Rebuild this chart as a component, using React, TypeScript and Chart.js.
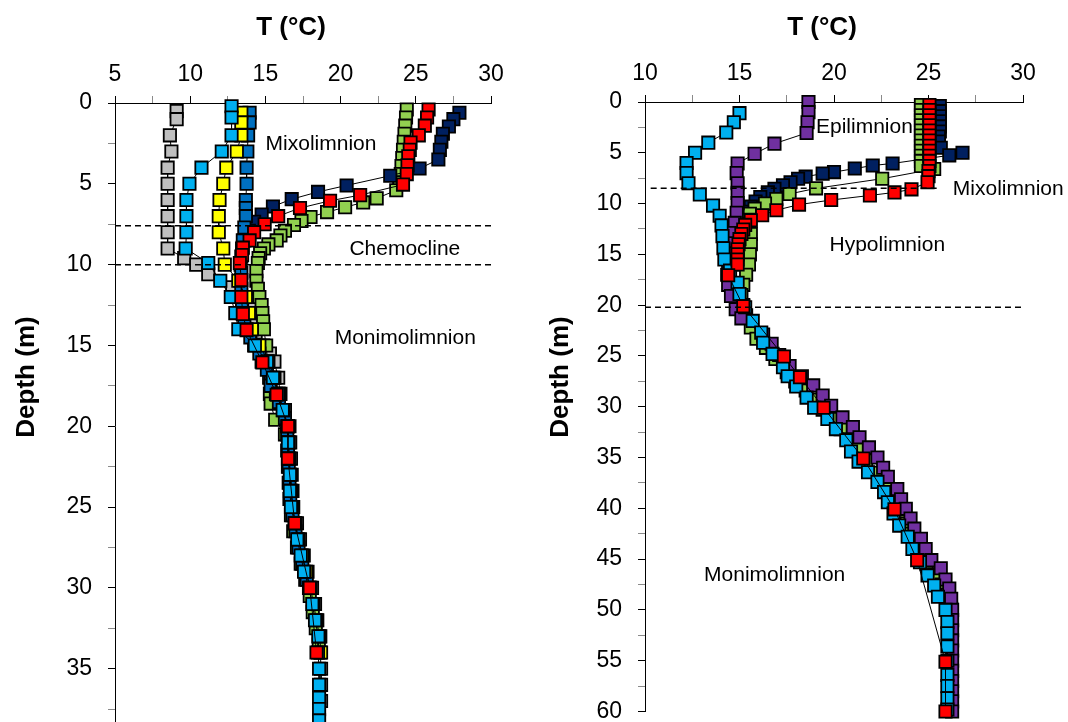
import { useEffect, useRef } from 'react';
import { Chart, registerables } from 'chart.js';

Chart.register(...registerables);

const FONT = 'Arial, "Liberation Sans", Helvetica, sans-serif';

// ---------------- Left lake: temperature profiles (depth m, T °C) ----------------
const leftRedDepth = [0.4, 0.9, 1.4, 2.0, 2.45, 2.9, 3.3, 3.85, 4.4, 5.05, 5.7, 6.05, 6.5, 7.0, 7.5, 8.0, 8.5, 8.95, 9.4, 9.9, 10.95, 12.0, 13.05, 14.05, 16.05, 18.05, 20.0, 22.0, 26.0, 30.0, 34.0];
const leftRedTemp = [25.85, 25.75, 25.6, 25.2, 24.65, 24.6, 24.5, 24.45, 24.4, 24.15, 21.3, 19.3, 17.3, 15.85, 14.95, 14.25, 13.95, 13.5, 13.45, 13.3, 13.4, 13.4, 13.5, 13.75, 14.8, 15.75, 16.5, 16.5, 16.95, 17.95, 18.4];

const leftCyanDepth = [0.2, 0.9, 2.0, 3.0, 4.0, 5.0, 6.0, 7.0, 8.0, 9.0, 9.9, 11.0, 12.0, 13.0, 14.0, 15.0, 16.0, 17.0, 18.0, 19.0, 20.0, 21.0, 22.0, 23.0, 24.0, 25.0, 26.0, 27.0, 28.0, 29.0, 30.0, 31.0, 32.0, 33.0, 34.0, 35.0, 36.0, 36.8, 37.5, 38.2];
const leftCyanTemp = [12.75, 12.75, 12.75, 12.1, 10.75, 9.95, 9.75, 9.75, 9.75, 9.7, 11.2, 12.0, 12.7, 13.0, 13.2, 14.3, 15.1, 15.5, 15.85, 16.15, 16.45, 16.5, 16.55, 16.63, 16.63, 16.7, 16.95, 17.12, 17.35, 17.57, 17.9, 18.12, 18.3, 18.52, 18.5, 18.57, 18.57, 18.57, 18.57, 18.57];

const leftYellowDepth = [0.6, 1.2, 2.0, 3.0, 4.0, 5.0, 6.0, 7.0, 8.0, 9.0, 10.0, 11.0, 12.0, 13.0, 14.0, 15.0, 16.0, 17.0, 18.0, 19.0, 20.0, 21.0, 22.0, 23.0, 24.0, 25.0, 26.0, 27.0, 28.0, 29.0, 30.0, 31.0, 32.0, 33.0, 34.0];
const leftYellowTemp = [13.4, 13.4, 13.4, 13.1, 12.4, 12.2, 11.95, 11.9, 11.9, 12.2, 12.3, 13.2, 13.7, 13.9, 14.1, 14.6, 15.2, 15.6, 15.9, 16.2, 16.5, 16.55, 16.6, 16.65, 16.7, 16.8, 17.0, 17.2, 17.45, 17.7, 18.0, 18.2, 18.4, 18.6, 18.7];

const leftBlueDepth = [0.6, 1.2, 2.0, 3.0, 4.0, 5.0, 6.0, 6.5, 7.0, 7.7, 8.5, 9.5, 10.5, 11.5, 12.5, 13.5, 14.5, 15.5, 16.5, 17.5, 18.5, 19.5, 20.5, 21.5, 22.5, 23.5, 24.5, 25.5, 26.5, 27.5, 28.5, 29.5];
const leftBlueTemp = [13.95, 13.95, 13.85, 13.8, 13.75, 13.75, 13.7, 13.7, 13.7, 13.6, 13.5, 13.4, 13.4, 13.4, 13.45, 13.6, 14.0, 14.6, 15.1, 15.35, 15.9, 16.3, 16.45, 16.5, 16.55, 16.6, 16.65, 16.8, 17.0, 17.2, 17.45, 17.75];

const leftNavyDepth = [0.6, 1.0, 1.45, 1.9, 2.4, 2.9, 3.5, 4.05, 4.5, 5.1, 5.5, 5.95, 6.4, 6.9, 7.35, 7.9, 8.5, 9.0, 10.0, 11.0, 12.0, 13.0, 14.0, 15.0, 16.0, 17.0, 18.0];
const leftNavyTemp = [27.9, 27.5, 27.2, 26.8, 26.7, 26.6, 26.5, 25.25, 23.3, 20.4, 18.5, 16.75, 15.5, 14.75, 14.25, 13.9, 13.6, 13.45, 13.35, 13.35, 13.4, 13.5, 13.75, 14.25, 14.75, 15.35, 15.7];

const leftGreenDepth = [0.4, 0.9, 1.4, 1.9, 2.4, 2.9, 3.4, 3.9, 4.4, 4.9, 5.4, 5.9, 6.15, 6.45, 6.75, 7.05, 7.3, 7.55, 7.9, 8.2, 8.5, 8.75, 9.0, 9.3, 9.6, 9.9, 10.4, 11.0, 11.5, 12.0, 12.5, 13.0, 13.5, 14.0, 15.0, 16.0, 17.0, 18.0, 18.6, 19.6, 20.5, 21.5, 22.5, 23.5, 24.5, 25.5, 26.5, 27.5, 28.5, 29.5, 30.5, 31.5, 32.5, 33.5];
const leftGreenTemp = [24.4, 24.35, 24.3, 24.25, 24.2, 24.15, 24.1, 24.05, 24.0, 23.9, 23.7, 22.4, 21.5, 20.3, 19.1, 18.0, 17.4, 16.9, 16.3, 16.0, 15.75, 15.2, 14.9, 14.65, 14.55, 14.5, 14.4, 14.4, 14.5, 14.6, 14.75, 14.8, 14.85, 14.9, 15.05, 15.15, 15.25, 15.3, 15.35, 15.65, 16.3, 16.45, 16.5, 16.55, 16.6, 16.7, 16.85, 17.1, 17.35, 17.65, 17.95, 18.15, 18.35, 18.55];

const leftGrayDepth = [0.5, 1.0, 2.0, 3.0, 4.0, 5.0, 6.0, 7.0, 8.0, 9.0, 9.6, 10.0, 10.6, 11.4, 12.2, 12.7, 13.2, 13.7, 14.2, 15.0, 15.5, 16.0, 17.0, 18.0, 19.0, 20.0, 21.0, 22.0, 23.0, 24.0, 25.0, 26.0, 27.0, 28.0, 29.0, 30.0, 31.0, 32.0, 33.0, 34.0, 35.0, 36.0, 37.0];
const leftGrayTemp = [9.1, 9.1, 8.65, 8.75, 8.5, 8.5, 8.5, 8.5, 8.5, 8.5, 9.6, 10.4, 11.2, 12.8, 14.0, 14.2, 14.2, 14.3, 14.35, 14.85, 15.3, 15.6, 15.85, 16.0, 16.3, 16.6, 16.65, 16.7, 16.75, 16.8, 16.85, 17.1, 17.3, 17.55, 17.8, 18.1, 18.3, 18.45, 18.65, 18.65, 18.7, 18.7, 18.7];

// layer boundaries (depth m) and region names
const leftBoundaryDepth = [7.6, 10.0];
const leftBoundaryFrom = [5, 5];
const leftBoundaryTo = [30, 30];
const leftLayerNames = ['Mixolimnion', 'Chemocline', 'Monimolimnion'];
const leftLayerTemp = [18.7, 24.27, 24.3];
const leftLayerDepth = [2.44, 8.95, 14.47];

// ---------------- Right lake: temperature profiles (depth m, T °C) ----------------
const rightRedDepth = [0.3, 0.8, 1.3, 1.8, 2.3, 2.8, 3.3, 3.8, 4.3, 4.8, 5.3, 5.8, 6.3, 6.8, 7.3, 7.9, 8.6, 8.9, 9.2, 9.65, 10.1, 10.65, 11.15, 11.65, 12.1, 12.55, 13.0, 13.5, 14.0, 14.5, 15.0, 15.5, 16.0, 17.05, 20.1, 25.05, 27.1, 30.1, 35.1, 40.1, 45.1, 55.1, 60.0];
const rightRedTemp = [25.05, 25.05, 25.05, 25.05, 25.05, 25.05, 25.05, 25.05, 25.05, 25.05, 25.05, 25.05, 25.05, 25.0, 25.0, 24.95, 24.1, 23.2, 21.9, 19.85, 18.15, 16.95, 16.2, 15.6, 15.3, 15.2, 15.1, 15.0, 14.95, 14.9, 14.9, 14.9, 14.9, 14.4, 15.2, 17.35, 18.2, 19.45, 21.55, 23.2, 24.4, 25.9, 25.9];

const rightCyanDepth = [1.1, 2.0, 3.0, 4.0, 5.0, 6.0, 7.0, 8.0, 9.1, 10.2, 11.2, 12.15, 13.2, 14.4, 15.5, 16.6, 17.8, 18.9, 20.2, 21.55, 22.7, 23.7, 24.8, 26.1, 27.0, 28.0, 29.1, 30.1, 31.2, 32.2, 33.3, 34.4, 35.4, 36.45, 37.4, 38.4, 39.4, 40.5, 41.7, 42.8, 44.0, 45.3, 46.6, 47.6, 48.7, 50.0, 51.2, 52.3, 53.6, 55.0, 56.4, 57.5, 58.7, 59.8];
const rightCyanTemp = [15.0, 14.7, 14.3, 13.35, 12.65, 12.2, 12.2, 12.3, 12.9, 13.6, 13.95, 14.05, 14.1, 14.15, 14.2, 14.5, 14.9, 15.0, 15.3, 15.7, 16.15, 16.25, 16.75, 17.3, 17.55, 18.0, 18.55, 18.95, 19.65, 20.1, 20.65, 20.9, 21.3, 21.8, 22.3, 22.65, 22.85, 23.15, 23.45, 23.9, 24.15, 24.55, 24.95, 25.3, 25.5, 25.9, 26.0, 26.0, 26.0, 26.0, 26.0, 26.0, 26.0, 26.0];

const rightPurpleDepth = [0.0, 1.0, 2.0, 3.05, 4.1, 5.1, 6.05, 7.0, 8.0, 8.95, 9.95, 10.9, 11.9, 12.9, 13.9, 14.9, 15.9, 17.0, 18.0, 19.1, 20.4, 21.3, 22.9, 23.8, 24.9, 26.0, 27.0, 27.9, 28.9, 29.9, 31.05, 32.0, 33.0, 34.0, 35.0, 36.0, 36.9, 38.1, 39.1, 40.05, 41.0, 42.0, 43.0, 44.0, 45.1, 45.9, 47.0, 47.9, 48.9, 50.0, 51.0, 52.0, 53.0, 54.0, 55.0, 56.0, 57.0, 58.0, 59.0, 60.0];
const rightPurpleTemp = [18.65, 18.65, 18.6, 18.55, 16.85, 15.8, 14.9, 14.85, 14.9, 14.9, 14.9, 14.85, 14.75, 14.6, 14.5, 14.45, 14.4, 14.35, 14.4, 14.55, 14.8, 15.1, 16.25, 16.7, 17.1, 17.65, 18.3, 18.9, 19.4, 19.85, 20.45, 21.0, 21.35, 21.85, 22.3, 22.6, 22.85, 23.35, 23.55, 23.8, 24.05, 24.25, 24.6, 24.85, 25.15, 25.65, 25.9, 26.1, 26.2, 26.25, 26.25, 26.25, 26.25, 26.25, 26.25, 26.25, 26.25, 26.25, 26.25, 26.25];

const rightGreenDepth = [0.3, 0.8, 1.3, 1.8, 2.3, 2.8, 3.3, 3.8, 4.3, 4.8, 5.3, 5.8, 6.3, 6.6, 7.55, 8.5, 9.05, 9.55, 10.0, 10.5, 11.0, 11.6, 12.0, 13.0, 14.0, 15.0, 16.0, 17.0, 18.0, 19.0, 20.0, 21.0, 22.2, 23.3, 24.2, 25.3, 26.6, 27.5, 28.4, 29.3, 30.3, 31.2, 32.2, 33.2, 34.2, 35.3, 36.5, 37.5, 38.5, 39.5, 40.5, 41.5, 42.5, 43.5, 44.5, 45.5, 46.5, 47.5, 48.5, 49.9, 51.0, 52.0];
const rightGreenTemp = [24.6, 24.6, 24.6, 24.6, 24.6, 24.6, 24.6, 24.6, 24.6, 24.6, 24.6, 24.6, 24.6, 25.3, 22.55, 19.05, 17.65, 16.95, 16.35, 15.8, 15.55, 15.5, 15.55, 15.6, 15.6, 15.55, 15.5, 15.35, 15.2, 15.1, 15.2, 15.35, 15.6, 15.9, 16.4, 16.9, 17.5, 17.95, 18.5, 19.0, 19.4, 19.85, 20.35, 20.8, 21.2, 21.7, 22.4, 22.75, 23.1, 23.35, 23.6, 23.85, 24.05, 24.4, 24.65, 24.9, 25.3, 25.7, 26.0, 26.2, 26.2, 26.2];

const rightNavyDepth = [0.4, 0.9, 1.4, 1.9, 2.4, 2.9, 3.4, 3.9, 4.5, 5.0, 5.25, 6.05, 6.25, 6.55, 6.9, 7.05, 7.35, 7.55, 7.9, 8.2, 8.55, 8.9, 9.35, 9.8, 10.3, 10.8, 11.4, 12.0, 13.0, 14.0, 15.0, 16.0];
const rightNavyTemp = [25.6, 25.6, 25.6, 25.6, 25.6, 25.6, 25.55, 25.55, 25.65, 26.8, 26.1, 23.1, 22.05, 21.1, 20.0, 19.4, 18.5, 18.1, 17.7, 17.3, 16.85, 16.5, 16.1, 15.85, 15.6, 15.45, 15.35, 15.3, 15.3, 15.25, 15.2, 15.15];

const rightBoundaryDepth = [8.5, 20.2];
const rightBoundaryFrom = [10.3, 10];
const rightBoundaryTo = [25.6, 30];
const rightLayerNames = ['Epilimnion', 'Mixolimnion', 'Hypolimnion', 'Monimolimnion'];
const rightLayerTemp = [21.61, 29.22, 22.82, 16.86];
const rightLayerDepth = [2.36, 8.4, 13.89, 46.38];

// ---------------- axes ----------------
const leftTempRange = [5, 30];
const leftDepthRange = [0, 40];
const rightTempRange = [10, 30];
const rightDepthRange = [0, 60];

const COLORS = {
  red: '#FF0000',
  cyan: '#00B0F0',
  yellow: '#FFFF00',
  blue: '#0070C0',
  navy: '#002060',
  green: '#92D050',
  gray: '#BFBFBF',
  purple: '#7030A0',
};

type Profile = { color: string; depth: number[]; temp: number[] };

type PanelSpec = {
  left: number;
  width: number;
  height: number;
  axisLeft: number;
  axisTop: number;
  padRight: number;
  padBottom: number;
  tempRange: number[];
  depthRange: number[];
  profiles: Profile[]; // first entry is drawn on top
  boundaryDepth: number[];
  boundaryFrom: number[];
  boundaryTo: number[];
  layerNames: string[];
  layerTemp: number[];
  layerDepth: number[];
};

const leftSpec: PanelSpec = {
  left: 0,
  width: 534,
  height: 760,
  axisLeft: 115,
  axisTop: 103,
  padRight: 43,
  padBottom: 5,
  tempRange: leftTempRange,
  depthRange: leftDepthRange,
  profiles: [
    { color: COLORS.red, depth: leftRedDepth, temp: leftRedTemp },
    { color: COLORS.cyan, depth: leftCyanDepth, temp: leftCyanTemp },
    { color: COLORS.yellow, depth: leftYellowDepth, temp: leftYellowTemp },
    { color: COLORS.blue, depth: leftBlueDepth, temp: leftBlueTemp },
    { color: COLORS.navy, depth: leftNavyDepth, temp: leftNavyTemp },
    { color: COLORS.green, depth: leftGreenDepth, temp: leftGreenTemp },
    { color: COLORS.gray, depth: leftGrayDepth, temp: leftGrayTemp },
  ],
  boundaryDepth: leftBoundaryDepth,
  boundaryFrom: leftBoundaryFrom,
  boundaryTo: leftBoundaryTo,
  layerNames: leftLayerNames,
  layerTemp: leftLayerTemp,
  layerDepth: leftLayerDepth,
};

const rightSpec: PanelSpec = {
  left: 534,
  width: 534,
  height: 722,
  axisLeft: 111,
  axisTop: 102,
  padRight: 45,
  padBottom: 9,
  tempRange: rightTempRange,
  depthRange: rightDepthRange,
  profiles: [
    { color: COLORS.red, depth: rightRedDepth, temp: rightRedTemp },
    { color: COLORS.cyan, depth: rightCyanDepth, temp: rightCyanTemp },
    { color: COLORS.purple, depth: rightPurpleDepth, temp: rightPurpleTemp },
    { color: COLORS.green, depth: rightGreenDepth, temp: rightGreenTemp },
    { color: COLORS.navy, depth: rightNavyDepth, temp: rightNavyTemp },
  ],
  boundaryDepth: rightBoundaryDepth,
  boundaryFrom: rightBoundaryFrom,
  boundaryTo: rightBoundaryTo,
  layerNames: rightLayerNames,
  layerTemp: rightLayerTemp,
  layerDepth: rightLayerDepth,
};

function Panel({ spec }: { spec: PanelSpec }) {
  const ref = useRef<HTMLCanvasElement | null>(null);

  useEffect(() => {
    if (!ref.current) return;
    const datasets: any[] = [];

    // dashed layer boundaries, on top of the profiles
    spec.boundaryDepth.forEach((d, i) => {
      datasets.push({
        data: [
          { x: spec.boundaryFrom[i], y: d },
          { x: spec.boundaryTo[i], y: d },
        ],
        showLine: true,
        borderColor: '#000',
        borderWidth: 1.5,
        borderDash: [6, 4],
        pointRadius: 0,
        clip: false,
      });
    });

    spec.profiles.forEach((p) => {
      datasets.push({
        data: p.depth.map((d, i) => ({ x: p.temp[i], y: d })),
        showLine: true,
        borderColor: '#000',
        borderWidth: 1,
        tension: 0,
        pointStyle: 'rect',
        pointRadius: 8.7,
        pointBackgroundColor: p.color,
        pointBorderColor: '#000',
        pointBorderWidth: 1.8,
        clip: false,
      });
    });

    const tickColor = (c: any) =>
      c.tick && Math.abs(c.tick.value % 5) < 1e-6 ? '#000' : '#8a8a8a';
    const labelFive = (v: any) => (Math.abs(Number(v) % 5) < 1e-6 ? String(v) : '');

    const textPlugin = {
      id: 'panelText',
      afterDraw(chart: any) {
        const { ctx, chartArea, scales } = chart;
        ctx.save();
        ctx.fillStyle = '#000';
        ctx.textAlign = 'center';
        ctx.textBaseline = 'alphabetic';
        ctx.font = `bold 26px ${FONT}`;
        ctx.fillText('T (°C)', (chartArea.left + chartArea.right) / 2 - 12, 35.3);
        ctx.save();
        ctx.translate(33.5, 377);
        ctx.rotate(-Math.PI / 2);
        ctx.fillText('Depth (m)', 0, 0);
        ctx.restore();

        ctx.font = `21px ${FONT}`;
        spec.layerNames.forEach((name, i) => {
          const x = scales.x.getPixelForValue(spec.layerTemp[i]);
          const y = scales.y.getPixelForValue(spec.layerDepth[i]);
          ctx.fillText(name, x, y + 7.5);
        });
        ctx.restore();
      },
    };

    const chart = new Chart(ref.current, {
      type: 'scatter',
      data: { datasets },
      options: {
        animation: false,
        responsive: false,
        maintainAspectRatio: false,
        layout: { padding: { left: 0, top: 0, right: spec.padRight, bottom: spec.padBottom } },
        plugins: {
          legend: { display: false },
          tooltip: { enabled: false },
        },
        scales: {
          x: {
            type: 'linear',
            position: 'top',
            min: spec.tempRange[0],
            max: spec.tempRange[1],
            afterFit: (s: any) => {
              s.height = spec.axisTop;
              s.paddingLeft = 0;
              s.paddingRight = 0;
            },
            ticks: {
              stepSize: 2.5,
              autoSkip: false,
              maxRotation: 0,
              callback: labelFive,
              color: '#000',
              padding: 8,
              font: { family: FONT, size: 23 },
            },
            grid: {
              drawOnChartArea: false,
              drawTicks: true,
              tickLength: 7,
              color: tickColor,
              lineWidth: 1,
            },
            border: { display: true, color: '#000', width: 1 },
          },
          y: {
            type: 'linear',
            position: 'left',
            reverse: true,
            min: spec.depthRange[0],
            max: spec.depthRange[1],
            afterFit: (s: any) => {
              s.width = spec.axisLeft;
              s.paddingTop = 0;
              s.paddingBottom = 0;
            },
            ticks: {
              stepSize: 2.5,
              autoSkip: false,
              callback: labelFive,
              color: '#000',
              padding: 16,
              font: { family: FONT, size: 23 },
            },
            grid: {
              drawOnChartArea: false,
              drawTicks: true,
              tickLength: 7,
              color: tickColor,
              lineWidth: 1,
            },
            border: { display: true, color: '#000', width: 1 },
          },
        },
      } as any,
      plugins: [textPlugin],
    });

    return () => chart.destroy();
  }, [spec]);

  return (
    <canvas
      ref={ref}
      width={spec.width}
      height={spec.height}
      style={{ position: 'absolute', left: spec.left, top: 0 }}
    />
  );
}

export default function App() {
  return (
    <div
      style={{
        position: 'fixed',
        left: 0,
        top: 0,
        width: 1068,
        height: 722,
        overflow: 'hidden',
        background: '#fff',
      }}
    >
      <Panel spec={leftSpec} />
      <Panel spec={rightSpec} />
    </div>
  );
}
